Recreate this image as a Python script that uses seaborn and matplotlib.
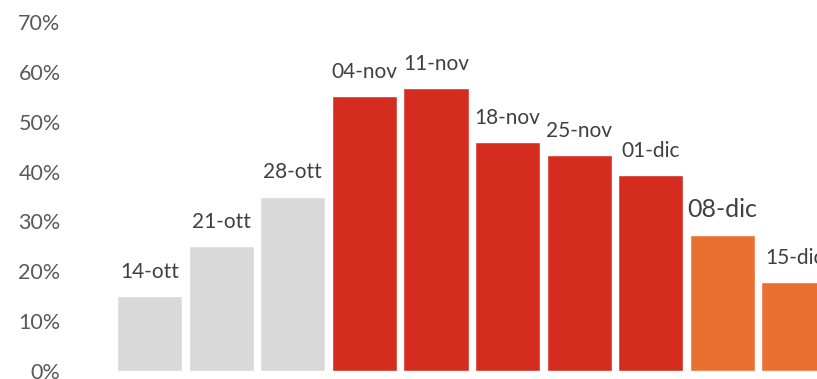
import matplotlib
matplotlib.use("Agg")
import matplotlib.pyplot as plt
import seaborn as sns
import pandas as pd
from matplotlib.ticker import PercentFormatter

weeks = ["14-ott", "21-ott", "28-ott", "04-nov", "11-nov", "18-nov", "25-nov", "01-dic", "08-dic", "15-dic"]
share = [0.15, 0.25, 0.35, 0.551, 0.567, 0.459, 0.433, 0.394, 0.272, 0.179]
bar_colors = ["#D9D9D9"] * 3 + ["#D42D20"] * 5 + ["#EA7031"] * 2

df = pd.DataFrame({"week": weeks, "share": share})

sns.set_style("white")
plt.rcParams["font.family"] = ["Lato", "DejaVu Sans"]

fig = plt.figure(figsize=(8.17, 3.79), dpi=100)
ax = fig.add_axes([105 / 817, 8 / 379, 1 - 105 / 817, 349 / 379])

sns.barplot(df, x="week", y="share", hue="week", palette=bar_colors,
            legend=False, width=0.91, saturation=1, ax=ax)

# etichette sopra le barre
for i, (w, v) in enumerate(zip(weeks, share)):
    size = 18 if w == "08-dic" else 15
    ax.annotate(w, (i, v), xytext=(0, 13), textcoords="offset points",
                ha="center", va="baseline", fontsize=size, color="#404040")

ax.set_xlim(-0.622, 9.32)
ax.set_ylim(0, 0.7)
ax.set_yticks([0, 0.1, 0.2, 0.3, 0.4, 0.5, 0.6, 0.7])
ax.yaxis.set_major_formatter(PercentFormatter(1, decimals=0))
ax.tick_params(axis="y", labelsize=15.5, labelcolor="#595959", length=0, pad=32)
ax.set_xticks([])
ax.set_xlabel("")
ax.set_ylabel("")
sns.despine(ax=ax, left=True, bottom=True)

fig.savefig("out.png", dpi=100)
